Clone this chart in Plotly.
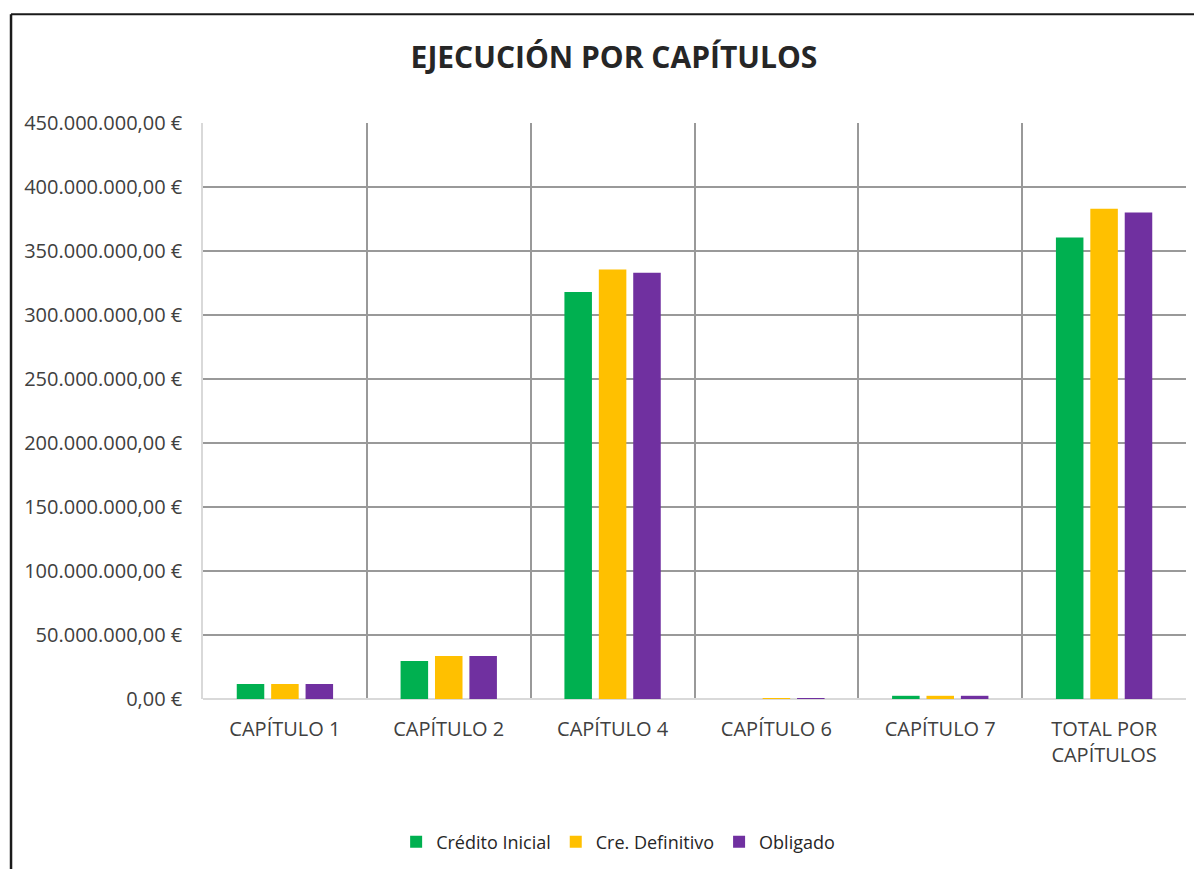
import plotly.graph_objects as go

capitulos = ["CAPÍTULO 1", "CAPÍTULO 2", "CAPÍTULO 4", "CAPÍTULO 6", "CAPÍTULO 7", "TOTAL POR<br>CAPÍTULOS"]
credito_inicial = [11_700_000, 29_700_000, 318_000_000, 0, 2_500_000, 360_500_000]
cre_definitivo = [11_700_000, 33_600_000, 335_500_000, 400_000, 2_500_000, 383_000_000]
obligado = [11_700_000, 33_600_000, 333_000_000, 500_000, 2_500_000, 380_000_000]
y_ticks = list(range(0, 450_000_001, 50_000_000))


def euro(v):
    # 450000000 -> "450.000.000,00 €"
    s = f"{v:,.2f}".replace(",", "X").replace(".", ",").replace("X", ".")
    return s + " €"


series = [
    ("Crédito Inicial", credito_inicial, "#00B050"),
    ("Cre. Definitivo", cre_definitivo, "#FFC000"),
    ("Obligado", obligado, "#7030A0"),
]

fig = go.Figure()
for name, vals, color in series:
    fig.add_trace(go.Bar(x=capitulos, y=vals, name=name, marker_color=color,
                         marker_line_width=0))

font_family = "Open Sans, Noto Sans, sans-serif"
# page body has an 8px margin, so the figure is a bit smaller than the window
fig.update_layout(
    width=1194, height=861,
    paper_bgcolor="white", plot_bgcolor="white",
    margin=dict(l=195, r=16, t=115, b=170),
    font=dict(family=font_family, size=18, color="#404040"),
    title=dict(text="<b>EJECUCIÓN POR CAPÍTULOS</b>", xref="container", x=0.5075,
               y=0.943, yanchor="middle", xanchor="center",
               font=dict(size=30, color="#262626", family=font_family)),
    barmode="group", bargap=0.37, bargroupgap=0.2,
    showlegend=True,
    legend=dict(orientation="h", xref="container", yref="container",
                x=0.511, xanchor="center", y=0.0314, yanchor="middle",
                font=dict(size=18, color="#262626"), itemwidth=30,
                traceorder="normal"),
    xaxis=dict(tickson="boundaries", showgrid=True, gridcolor="#999999", gridwidth=1.5,
               showline=False, ticks="", ticklabelstandoff=16,
               tickfont=dict(size=20, color="#404040")),
    yaxis=dict(range=[0, 450_000_000], tickmode="array", tickvals=y_ticks,
               ticktext=[euro(v) for v in y_ticks],
               showgrid=True, gridcolor="#999999", gridwidth=1.5,
               showline=True, linecolor="#d9d9d9", linewidth=1.5,
               zeroline=True, zerolinecolor="#d9d9d9", zerolinewidth=2,
               ticklabelstandoff=15, tickfont=dict(size=20, color="#404040")),
)

# chart frame (left and top edges)
fig.add_shape(type="line", xref="paper", yref="paper", x0=-0.1953, x1=-0.1953,
              y0=1.189, y1=-0.35, line=dict(color="#1a1a1a", width=2.5))
fig.add_shape(type="line", xref="paper", yref="paper", x0=-0.1953, x1=1.03,
              y0=1.189, y1=1.189, line=dict(color="#1a1a1a", width=2))

fig.write_html("out.html")
